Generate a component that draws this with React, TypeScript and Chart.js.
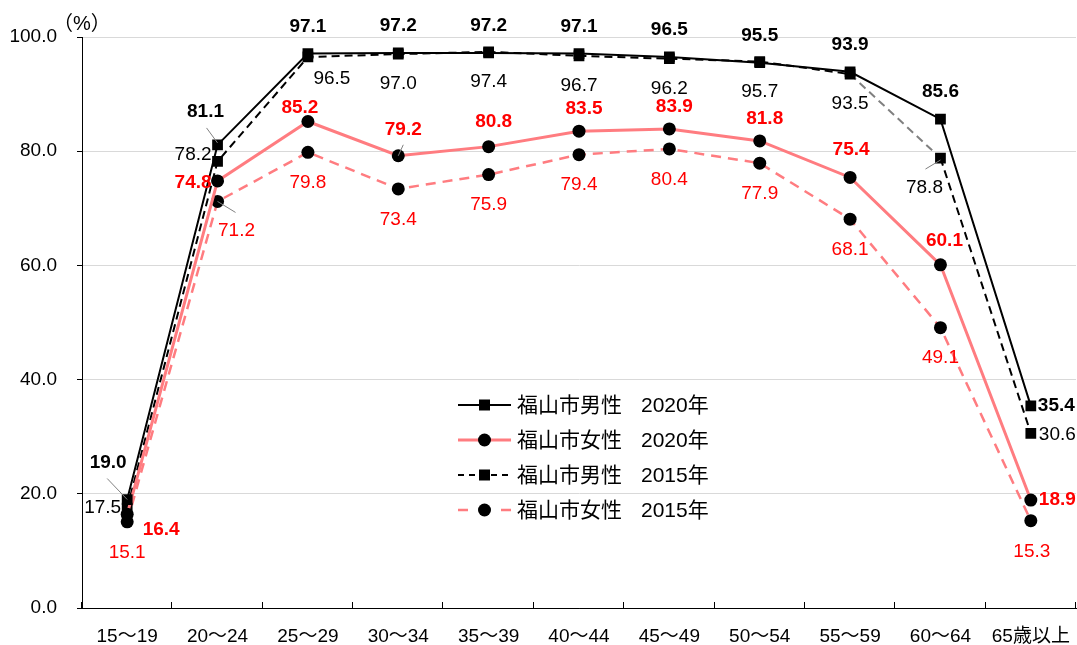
import React, { useEffect, useRef } from "react";
import { Chart, registerables } from "chart.js";

Chart.register(...registerables);

const categories = ["15〜19", "20〜24", "25〜29", "30〜34", "35〜39", "40〜44", "45〜49", "50〜54", "55〜59", "60〜64", "65歳以上"];
const male2020 = [19.0, 81.1, 97.1, 97.2, 97.2, 97.1, 96.5, 95.5, 93.9, 85.6, 35.4];
const female2020 = [16.4, 74.8, 85.2, 79.2, 80.8, 83.5, 83.9, 81.8, 75.4, 60.1, 18.9];
const male2015 = [17.5, 78.2, 96.5, 97.0, 97.4, 96.7, 96.2, 95.7, 93.5, 78.8, 30.6];
const female2015 = [15.1, 71.2, 79.8, 73.4, 75.9, 79.4, 80.4, 77.9, 68.1, 49.1, 15.3];
const seriesNames = ["福山市男性", "福山市女性", "福山市男性", "福山市女性"];
const seriesYears = ["2020年", "2020年", "2015年", "2015年"];
const yTicks = [0, 20, 40, 60, 80, 100];

const FONT = '"Liberation Sans", "Noto Sans CJK JP", sans-serif';
const PINK = "#FF7C80";
const RED = "#FF0000";

type Place = { dx: number; dy: number; align?: CanvasTextAlign; leader?: [number, number, number, number] };

// label placement per dataset: default + overrides (style only)
const labelStyle = [
  { color: "#000", bold: true, def: { dx: 0, dy: -27 } as Place, over: {
    0: { dx: -19, dy: -37, leader: [-20, -21, 0, 0] },
    1: { dx: -12, dy: -33, leader: [-11, -17, 0, -2] },
    10: { dx: 7, dy: 0, align: "left" },
  } as Record<number, Place> },
  { color: RED, bold: true, def: { dx: 5, dy: -22 } as Place, over: {
    0: { dx: 34, dy: 15 },
    1: { dx: -6, dy: 2, align: "right" },
    2: { dx: -8, dy: -14 },
    3: { dx: 5, dy: -26, leader: [5, -11, 0, 0] },
    4: { dx: 5, dy: -25 },
    8: { dx: 1, dy: -28 },
    9: { dx: 4, dy: -24 },
    10: { dx: 8, dy: 0, align: "left" },
  } as Record<number, Place> },
  { color: "#000", bold: false, def: { dx: 0, dy: 30 } as Place, over: {
    0: { dx: -6, dy: 0, align: "right" },
    1: { dx: -6, dy: -7, align: "right" },
    2: { dx: 24, dy: 22 },
    9: { dx: -16, dy: 30, leader: [-15, 11, 0, 2] },
    10: { dx: 8, dy: 1, align: "left" },
  } as Record<number, Place> },
  { color: RED, bold: false, def: { dx: 0, dy: 30.5 } as Place, over: {
    1: { dx: 19, dy: 29, leader: [18, 11, 0, 0] },
    10: { dx: 1, dy: 31.5 },
  } as Record<number, Place> },
];

const customPlugin = {
  id: "custom",
  afterDraw(chart: any) {
    const ctx = chart.ctx as CanvasRenderingContext2D;
    const area = chart.chartArea;
    ctx.save();
    // x-axis inward tick marks at category boundaries
    ctx.strokeStyle = "#000";
    ctx.lineWidth = 1;
    const n = categories.length;
    const w = (area.right - area.left) / n;
    for (let i = 0; i <= n; i++) {
      const x = Math.round(area.left + i * w) - 0.5;
      ctx.beginPath();
      ctx.moveTo(x, area.bottom);
      ctx.lineTo(x, area.bottom - 6);
      ctx.stroke();
    }
    // (%) unit
    ctx.fillStyle = "#000";
    ctx.font = `20px ${FONT}`;
    ctx.textAlign = "left";
    ctx.textBaseline = "middle";
    ctx.fillText("（%）", 53, 24);

    // data labels
    chart.data.datasets.forEach((ds: any, di: number) => {
      const meta = chart.getDatasetMeta(di);
      const st = labelStyle[di];
      meta.data.forEach((pt: any, i: number) => {
        const p: Place = st.over[i] || st.def;
        const v = ds.data[i] as number;
        if (p.leader) {
          ctx.strokeStyle = "#808080";
          ctx.lineWidth = 1;
          ctx.beginPath();
          ctx.moveTo(pt.x + p.leader[0], pt.y + p.leader[1]);
          ctx.lineTo(pt.x + p.leader[2], pt.y + p.leader[3]);
          ctx.stroke();
        }
        ctx.fillStyle = st.color;
        ctx.font = `${st.bold ? "bold " : ""}19px ${FONT}`;
        ctx.textAlign = p.align || "center";
        ctx.textBaseline = "middle";
        ctx.fillText(v.toFixed(1), pt.x + p.dx, pt.y + p.dy);
      });
    });

    // legend
    const lx0 = 458, lx1 = 511, mx = 484.5, tx = 517, yx = 641;
    const rowY = [405, 440, 475, 510];
    chart.data.datasets.forEach((ds: any, di: number) => {
      const y = rowY[di];
      ctx.save();
      ctx.strokeStyle = ds.borderColor;
      ctx.lineWidth = ds.borderWidth;
      ctx.setLineDash(di === 2 ? [6, 5] : []);
      ctx.beginPath();
      if (di === 3) {
        ctx.moveTo(lx0, y); ctx.lineTo(lx0 + 10, y);
        ctx.moveTo(lx1 - 10, y); ctx.lineTo(lx1, y);
      } else {
        ctx.moveTo(lx0, y); ctx.lineTo(lx1, y);
      }
      ctx.stroke();
      ctx.restore();
      ctx.fillStyle = "#000";
      ctx.beginPath();
      if (ds.pointStyle === "rect") {
        ctx.rect(mx - 5.5, y - 5.5, 11, 11);
      } else {
        ctx.arc(mx, y, 6.5, 0, Math.PI * 2);
      }
      ctx.fill();
      ctx.font = `21px ${FONT}`;
      ctx.textAlign = "left";
      ctx.textBaseline = "middle";
      ctx.fillText(seriesNames[di], tx, y + 1);
      ctx.fillText(seriesYears[di], yx, y + 1);
    });
    ctx.restore();
  },
};

export default function App() {
  const ref = useRef<HTMLCanvasElement | null>(null);
  useEffect(() => {
    if (!ref.current) return;
    const chart = new Chart(ref.current, {
      type: "line",
      data: {
        labels: categories,
        datasets: [
          {
            label: "福山市男性 2020年",
            data: male2020,
            borderColor: "#000",
            borderWidth: 2,
            pointStyle: "rect",
            pointRadius: 7.6,
            pointBackgroundColor: "#000",
            pointBorderWidth: 0,
            tension: 0,
          },
          {
            label: "福山市女性 2020年",
            data: female2020,
            borderColor: PINK,
            borderWidth: 3,
            pointStyle: "circle",
            pointRadius: 6.5,
            pointBackgroundColor: "#000",
            pointBorderWidth: 0,
            tension: 0,
          },
          {
            label: "福山市男性 2015年",
            data: male2015,
            borderColor: "#000",
            borderWidth: 2,
            borderDash: [8, 5],
            pointStyle: "rect",
            pointRadius: 7.6,
            pointBackgroundColor: "#000",
            pointBorderWidth: 0,
            tension: 0,
            segment: {
              borderColor: (c: any) => (c.p0DataIndex === 8 ? "#808080" : "#000"),
            },
          },
          {
            label: "福山市女性 2015年",
            data: female2015,
            borderColor: PINK,
            borderWidth: 2.5,
            borderDash: [10, 7],
            pointStyle: "circle",
            pointRadius: 6.5,
            pointBackgroundColor: "#000",
            pointBorderWidth: 0,
            tension: 0,
          },
        ],
      },
      options: {
        responsive: false,
        animation: false,
        devicePixelRatio: 1,
        layout: { autoPadding: false, padding: { top: 37, right: 1, left: 0, bottom: 0 } },
        plugins: { legend: { display: false }, tooltip: { enabled: false } },
        scales: {
          x: {
            type: "category",
            offset: true,
            grid: { display: false, drawTicks: false, offset: true },
            border: { display: true, color: "#000", width: 1 },
            ticks: {
              color: "#000",
              font: { size: 19, family: FONT },
              padding: 17,
              maxRotation: 0,
              autoSkip: false,
            },
            afterFit: (s: any) => { s.height = 37; s.paddingLeft = 0; s.paddingRight = 0; },
          },
          y: {
            min: 0,
            max: 100,
            afterBuildTicks: (s: any) => { s.ticks = yTicks.map((v) => ({ value: v })); },
            grid: {
              color: (c: any) => (c.tick && c.tick.value === 0 ? "#000" : "#d9d9d9"),
              tickColor: "#000",
              tickLength: 5,
              lineWidth: 1,
            },
            border: { display: true, color: "#000", width: 1 },
            ticks: {
              color: "#000",
              font: { size: 19, family: FONT },
              padding: 20,
              callback: (v: any) => Number(v).toFixed(1),
            },
            afterFit: (s: any) => { s.width = 82; s.paddingTop = 0; s.paddingBottom = 0; },
          },
        },
      },
      plugins: [customPlugin],
    });
    return () => chart.destroy();
  }, []);
  return (
    <div style={{ position: "fixed", left: 0, top: 0, width: 1077, height: 645, background: "#fff" }}>
      <canvas ref={ref} width={1077} height={645} style={{ width: 1077, height: 645, display: "block" }} />
    </div>
  );
}
